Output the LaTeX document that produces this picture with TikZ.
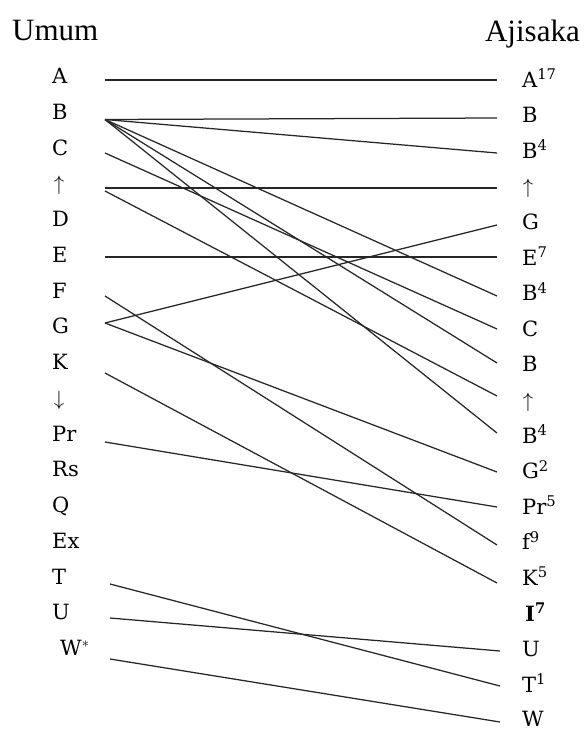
\documentclass[tikz,border=0pt]{standalone}
\usepackage{fontspec}
\newfontfamily\hdfont{Liberation Serif}
\newfontfamily\lbfont{DejaVu Serif}
\begin{document}
\begin{tikzpicture}[x=1pt,y=-1pt,
  lab/.style={anchor=base west,inner sep=0pt,font=\lbfont\fontsize{21}{21}\selectfont},
  arr/.style={anchor=base,inner sep=0pt,font=\fontsize{22}{22}\selectfont},
  hd/.style={inner sep=0pt,font=\hdfont\fontsize{31}{31}\selectfont},
  link/.style={line width=1.25pt,draw=black!85}]
\useasboundingbox (0,0) rectangle (584,731);
% headers
\node[hd,anchor=base west] (hU) at (12,40) {Umum};
\node[hd,anchor=base east] (hA) at (580,41) {Ajisaka};
% left labels
\node[lab] (LA)  at (52,83.5)   {A};
\node[lab] (LB)  at (52,119.25) {B};
\node[lab] (LC)  at (52,155)    {C};
\node[arr] (LUp) at (59,190.75) {$\uparrow$};
\node[lab] (LD)  at (52,226.5)  {D};
\node[lab] (LE)  at (52,262.25) {E};
\node[lab] (LF)  at (52,298)    {F};
\node[lab] (LG)  at (52,333.75) {G};
\node[lab] (LK)  at (52,369.5)  {K};
\node[arr] (LDn) at (59,405.25) {$\downarrow$};
\node[lab] (LPr) at (52,441)    {Pr};
\node[lab] (LRs) at (52,476.75) {Rs};
\node[lab] (LQ)  at (52,512.5)  {Q};
\node[lab] (LEx) at (52,548.25) {Ex};
\node[lab] (LT)  at (52,584)    {T};
\node[lab] (LU)  at (52,619.75) {U};
\node[lab] (LW)  at (60,655.5)  {W$^{*}$};
% right labels
\node[lab] (RA)   at (522,87)    {A\textsuperscript{17}};
\node[lab] (RB)   at (522,122.6) {B};
\node[lab] (RB4a) at (522,158.2) {B\textsuperscript{4}};
\node[arr] (RUp1) at (528,193.8) {$\uparrow$};
\node[lab] (RG)   at (522,229.4) {G};
\node[lab] (RE)   at (522,265)   {E\textsuperscript{7}};
\node[lab] (RB4b) at (522,300.6) {B\textsuperscript{4}};
\node[lab] (RC)   at (522,336.2) {C};
\node[lab] (RB2)  at (522,371.8) {B};
\node[arr] (RUp2) at (528,407.4) {$\uparrow$};
\node[lab] (RB4c) at (522,443)   {B\textsuperscript{4}};
\node[lab] (RG2)  at (522,478.6) {G\textsuperscript{2}};
\node[lab] (RPr)  at (522,514.2) {Pr\textsuperscript{5}};
\node[lab] (Rf)   at (522,549.8) {f\textsuperscript{9}};
\node[lab] (RK)   at (522,585.4) {K\textsuperscript{5}};
\node[lab] (RI)   at (525,621)   {\textbf{I\textsuperscript{7}}};
\node[lab] (RU)   at (522,656.6) {U};
\node[lab] (RT)   at (522,692.2) {T\textsuperscript{1}};
\node[lab] (RW)   at (522,726.5) {W};
% left ports
\coordinate (pA)   at (105,80);
\coordinate (pB)   at (105,119.5);
\coordinate (pC)   at (105,153);
\coordinate (pUp1) at (105,188);
\coordinate (pUp2) at (105,191);
\coordinate (pE)   at (105,257);
\coordinate (pF)   at (105,296);
\coordinate (pG)   at (105,323);
\coordinate (pK)   at (105,373);
\coordinate (pPr)  at (105,442);
\coordinate (pT)   at (110,584);
\coordinate (pU)   at (110,618);
\coordinate (pW)   at (110,659);
% right ports
\coordinate (qA)   at (497,80);
\coordinate (qB)   at (497,118);
\coordinate (qB4a) at (497,153);
\coordinate (qUp1) at (497,188);
\coordinate (qG)   at (497,225);
\coordinate (qE)   at (497,257);
\coordinate (qB4b) at (497,296);
\coordinate (qC)   at (497,329);
\coordinate (qB2)  at (497,363);
\coordinate (qUp2) at (497,396);
\coordinate (qB4c) at (497,433);
\coordinate (qG2)  at (497,472);
\coordinate (qPr)  at (497,507);
\coordinate (qf)   at (497,545);
\coordinate (qK)   at (497,583);
\coordinate (qU)   at (500,651);
\coordinate (qT)   at (500,686);
\coordinate (qW)   at (500,722);
% connectors
\draw[link] (pA) -- (qA);
\draw[link] (pB) -- (qB);
\draw[link] (pB) -- (qB4a);
\draw[link] (pB) -- (qB4b);
\draw[link] (pB) -- (qB2);
\draw[link] (pB) -- (qB4c);
\draw[link] (pC) -- (qC);
\draw[link] (pUp1) -- (qUp1);
\draw[link] (pUp2) -- (qUp2);
\draw[link] (pE) -- (qE);
\draw[link] (pF) -- (qf);
\draw[link] (pG) -- (qG);
\draw[link] (pG) -- (qG2);
\draw[link] (pK) -- (qK);
\draw[link] (pPr) -- (qPr);
\draw[link] (pT) -- (qT);
\draw[link] (pU) -- (qU);
\draw[link] (pW) -- (qW);
\end{tikzpicture}
\end{document}
